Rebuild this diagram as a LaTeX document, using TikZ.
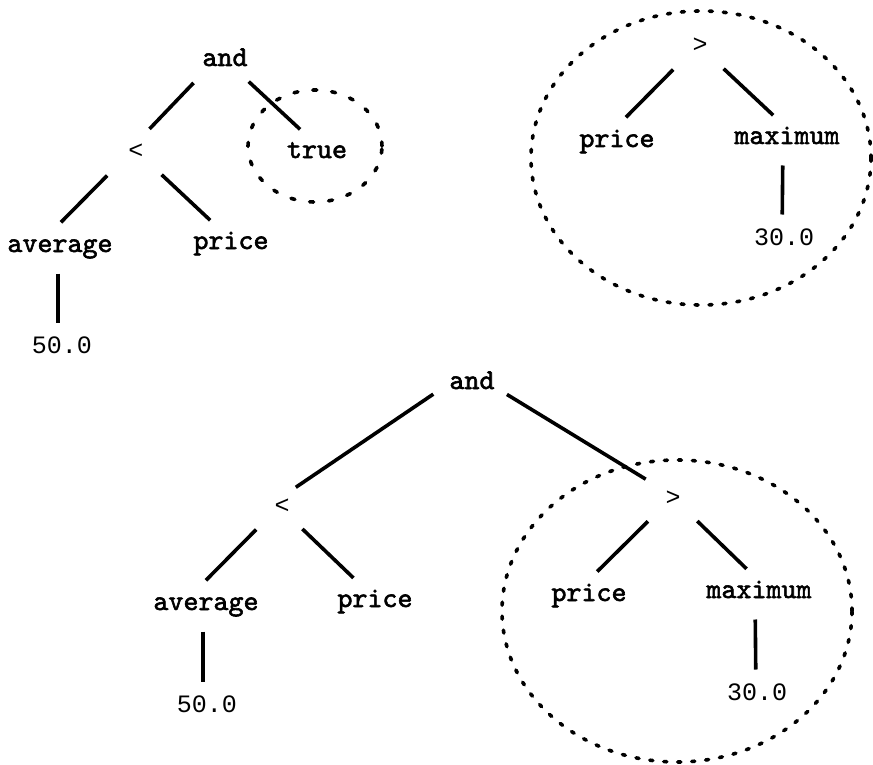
\documentclass[tikz,border=0pt]{standalone}
\usepackage{fontspec}
\setmainfont{Liberation Mono}
\newfontfamily\treefont{lmmono10-regular.otf}[FakeBold=2]
\begin{document}
\begin{tikzpicture}[x=1pt, y=-1pt,
  every node/.style={font=\fontsize{25}{30}\selectfont, anchor=base, inner sep=0pt, text height=15pt, text depth=4pt},
  word/.style={font=\fontsize{28.6}{34}\selectfont\treefont},
  branch/.style={line width=3.6pt, shorten <=31pt, shorten >=34pt},
  stem/.style={line width=3.6pt, shorten <=27pt, shorten >=25pt},
  ring/.style={line width=3.6pt, line cap=round, dash pattern=on 3pt off 11pt},
  smallring/.style={line width=3.6pt, line cap=round, dash pattern=on 4pt off 15pt}]
  \useasboundingbox (0,0) rectangle (873,765);

  \node[word] (andA) at (225,66) {and};
  \node (ltA) at (136,159) {<};
  \node[word] (trueA) at (317,158) {true};
  \node[word] (avgA) at (60,252) {average};
  \node[word] (priceA) at (231,249) {price};
  \node (fiftyA) at (62,353) {50.0};

  \node (gtB) at (700,53) {>};
  \node[word] (priceB) at (617,147) {price};
  \node[word] (maxB) at (787,144) {maximum};
  \node (thirtyB) at (784,245) {30.0};

  \node[word] (andC) at (472,389) {and};
  \node (ltC) at (282,513) {<};
  \node (gtC) at (673,505) {>};
  \node[word] (avgC) at (206,610) {average};
  \node[word] (lpriceC) at (375,607) {price};
  \node[word] (rpriceC) at (589,601) {price};
  \node[word] (maxC) at (759,598) {maximum};
  \node (fiftyC) at (207,712) {50.0};
  \node (thirtyC) at (757,700) {30.0};

  \foreach \p/\c/\ps/\cs in {andA/ltA/-10/-10, andA/trueA/1/8, ltA/avgA/-7/-23, ltA/priceA/3/4,
      gtB/priceB/-5/-15, gtB/maxB/1/11, ltC/avgC/-4/-24, ltC/lpriceC/-2/3,
      gtC/rpriceC/-3/-16, gtC/maxC/2/12}
    \draw[branch] ([xshift=\ps pt]\p.center) -- ([xshift=\cs pt]\c.center);
  \draw[branch, shorten <=19pt, shorten >=36pt] ([xshift=-23pt]andC.center) -- ([xshift=-16pt]ltC.center);
  \draw[branch, shorten <=21pt, shorten >=39pt] ([xshift=17pt]andC.center) -- ([xshift=6pt]gtC.center);

  \foreach \p/\c/\ps/\cs in {avgA/fiftyA/-2/-4, maxB/thirtyB/-4/-2, avgC/fiftyC/-3/-4, maxC/thirtyC/-4/-1}
    \draw[stem] ([xshift=\ps pt]\p.center) -- ([xshift=\cs pt]\c.center);

  \draw[smallring] (315,146) ellipse [x radius=67pt, y radius=56pt];
  \draw[ring] (701,158) ellipse [x radius=170pt, y radius=147pt];
  \draw[ring] (677,611) ellipse [x radius=175pt, y radius=151pt];
\end{tikzpicture}
\end{document}
